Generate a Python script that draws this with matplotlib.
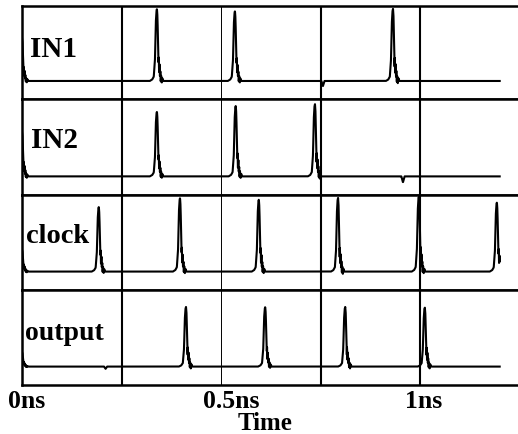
import numpy as np
import matplotlib
matplotlib.use("Agg")
import matplotlib.pyplot as plt
from matplotlib.transforms import ScaledTranslation

# ---- data (times in ns, amplitudes relative) ----
signal_names = ["IN1", "IN2", "clock", "output"]

in1_times = [0.0, 0.339, 0.535, 0.932]
in1_amps = [0.6, 1.0, 0.97, 1.0]
in2_times = [0.0, 0.339, 0.537, 0.736]
in2_amps = [0.6, 0.87, 0.95, 0.97]
clock_times = [0.0, 0.193, 0.397, 0.595, 0.794, 0.997, 1.193]
clock_amps = [0.3, 0.88, 1.0, 0.98, 1.0, 1.02, 0.94]
output_times = [0.0, 0.412, 0.611, 0.812, 1.012]
output_amps = [0.2, 0.81, 0.81, 0.81, 0.80]

# small glitches (time, depth)
in1_dips = [(0.756, -0.07)]
in2_dips = [(0.957, -0.08)]
clock_dips = []
output_dips = [(0.21, -0.03)]

# pulse shape read from one spike (offset in ns, relative height)
pulse_offsets = [-0.018, -0.012, -0.008, -0.005, -0.003, -0.0012, 0.0, 0.0012,
                 0.003, 0.004, 0.0045, 0.0055, 0.0065, 0.0075, 0.0085, 0.0095,
                 0.0105, 0.012, 0.0135, 0.016, 0.02]
pulse_heights = [0.0, 0.02, 0.06, 0.3, 0.8, 0.97, 1.0, 0.9,
                 0.5, 0.2, 0.35, 0.1, 0.25, 0.05, 0.15, -0.02,
                 0.08, -0.03, 0.04, 0.0, 0.0]
dip_offsets = [-0.004, 0.0, 0.004]
dip_heights = [0.0, 1.0, 0.0]

t_end = 1.2
x_ticks = [0.0, 0.5, 1.0]
x_tick_labels = ["0ns", "0.5ns", "1ns"]
grid_thick = [0.25, 0.75, 1.0]
grid_thin = [0.5]
x_label = "Time"

signals = [
    (in1_times, in1_amps, in1_dips),
    (in2_times, in2_amps, in2_dips),
    (clock_times, clock_amps, clock_dips),
    (output_times, output_amps, output_dips),
]

t = np.arange(0, t_end + 1e-9, 0.0004)


def waveform(times, amps, dips):
    y = np.zeros_like(t)
    for t0, a in zip(times, amps):
        y += a * np.interp(t - t0, pulse_offsets, pulse_heights, left=0, right=0)
    for t0, a in dips:
        y += a * np.interp(t - t0, dip_offsets, dip_heights, left=0, right=0)
    return y


W, H = 518, 435
fig = plt.figure(figsize=(W / 100, H / 100), dpi=100)
fig.patch.set_facecolor("white")

left_px, right_px = 22, 518
edges = [7, 100, 196, 291, 386]
label_x = [0.016, 0.018, 0.009, 0.007]
label_y = [0.46, 0.50, 0.505, 0.48]
label_size = [21, 21, 20.5, 20]
font = "Liberation Serif"
tick_shift_px = [5, 10, 4]

axes = []
for i, name in enumerate(signal_names):
    top, bot = edges[i], edges[i + 1]
    ax = fig.add_axes([left_px / W, 1 - bot / H, (right_px - left_px) / W, (bot - top) / H])
    times, amps, dips = signals[i]
    ax.plot(t, waveform(times, amps, dips), color="black", lw=1.5)
    ax.set_xlim(0, 1.246)
    ax.set_ylim(-0.25, 1.04)
    for xv in grid_thick:
        ax.axvline(xv, color="black", lw=1.5)
    for xv in grid_thin:
        ax.axvline(xv, color="black", lw=0.7)
    for s in ["left", "top", "bottom"]:
        ax.spines[s].set_linewidth(1.8)
    ax.spines["right"].set_visible(False)
    ax.set_yticks([])
    ax.text(label_x[i], label_y[i], name, transform=ax.transAxes, ha="left", va="baseline",
            fontsize=label_size[i], fontweight="bold", family=font)
    if i < 3:
        ax.set_xticks([])
    else:
        ax.set_xticks(x_ticks)
        ax.set_xticklabels(x_tick_labels, fontsize=18.5, fontweight="bold", family=font)
        ax.tick_params(axis="x", length=0, pad=3)
        for lab, dx in zip(ax.get_xticklabels(), tick_shift_px):
            lab.set_transform(lab.get_transform() + ScaledTranslation(dx / 100, 0, fig.dpi_scale_trans))
        ax.set_xlabel(x_label, fontsize=18, fontweight="bold", family=font, labelpad=2)
        ax.xaxis.set_label_coords(0.49, -0.27)
    axes.append(ax)

fig.savefig("out.png", dpi=100)
